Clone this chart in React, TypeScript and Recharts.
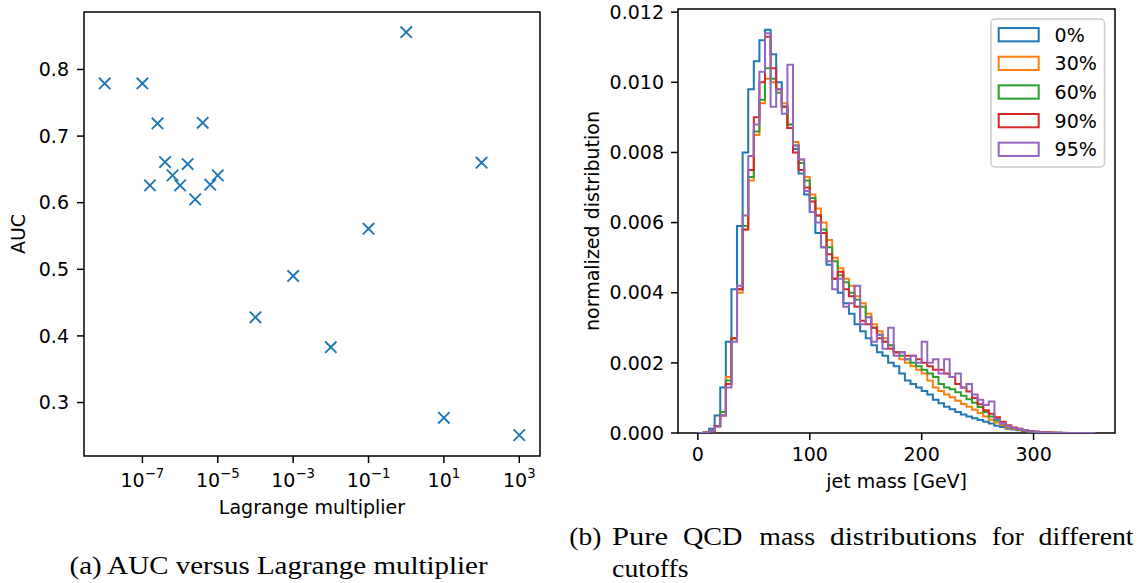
import React from 'react';
import { ScatterChart, Scatter, XAxis, YAxis, LineChart, Line, ReferenceArea } from 'recharts';

// ---------- Panel (a): AUC vs Lagrange multiplier ----------
const lagrangeValues = [
  1e-8, 1e-7, 2.512e-7, 1.585e-7, 3.981e-7, 6.31e-7, 1e-6, 1.585e-6, 2.512e-6, 3.981e-6,
  6.31e-6, 1e-5, 1e-4, 1e-3, 1e-2, 1e-1, 1, 10, 100, 1000,
];
const aucValues = [
  0.779, 0.779, 0.719, 0.626, 0.661, 0.641, 0.626, 0.658, 0.605, 0.72,
  0.627, 0.641, 0.428, 0.49, 0.383, 0.561, 0.856, 0.277, 0.66, 0.251,
];
const logTicks = [1e-7, 1e-5, 1e-3, 1e-1, 1e1, 1e3];
const aucTicks = [0.3, 0.4, 0.5, 0.6, 0.7, 0.8];

// ---------- Panel (b): jet mass histograms (5 GeV bins, 0..355 GeV) ----------
const BIN_WIDTH = 5;
const cutoffLabels = ['0%', '30%', '60%', '90%', '95%'];
const cutoffColors = ['#1f77b4', '#ff7f0e', '#2ca02c', '#d62728', '#9467bd'];

const hist0 = [
  0, 0.00002, 0.00012, 0.0005, 0.0013, 0.0026, 0.0041, 0.0059, 0.008, 0.0098,
  0.0106, 0.0112, 0.0115, 0.0108, 0.01, 0.0093, 0.0087, 0.0081, 0.0074, 0.0068,
  0.0063, 0.0057, 0.0053, 0.0048, 0.0044, 0.004, 0.0037, 0.0034, 0.0031, 0.0029,
  0.0027, 0.0025, 0.0023, 0.0022, 0.002, 0.0019, 0.0017, 0.0015, 0.0014, 0.0013,
  0.0012, 0.0011, 0.00095, 0.00085, 0.00075, 0.00068, 0.0006, 0.00053, 0.00047, 0.00042,
  0.00037, 0.00032, 0.00027, 0.00021, 0.00017, 0.00012, 0.0001, 0.00008, 0.00006, 0.00004,
  0.00003, 0.00002, 0.00001, 0.00001, 0, 0, 0, 0, 0, 0, 0,
];
const hist30 = [
  0, 0.00001, 0.00006, 0.0002, 0.0006, 0.0016, 0.0027, 0.004, 0.0058, 0.0072,
  0.0085, 0.0094, 0.0101, 0.01, 0.0098, 0.0094, 0.0088, 0.0083, 0.0078, 0.0073,
  0.0068, 0.0064, 0.006, 0.0055, 0.005, 0.0047, 0.0044, 0.0042, 0.0039, 0.0037,
  0.0034, 0.0031, 0.0029, 0.0027, 0.0025, 0.0023, 0.0021, 0.002, 0.0019, 0.0018,
  0.0017, 0.0015, 0.0013, 0.0012, 0.0011, 0.00102, 0.00092, 0.00083, 0.00075, 0.00066,
  0.00057, 0.00047, 0.00038, 0.0003, 0.00023, 0.00016, 0.00012, 0.00009, 0.00007, 0.00005,
  0.00003, 0.00002, 0.00001, 0.00001, 0.00001, 0, 0, 0, 0, 0, 0,
];
const hist60 = [
  0, 0.00001, 0.00006, 0.0002, 0.0006, 0.0015, 0.0027, 0.0041, 0.0059, 0.0073,
  0.0086, 0.0095, 0.0104, 0.0101, 0.0097, 0.0093, 0.0088, 0.0082, 0.0077, 0.0072,
  0.0067, 0.0062, 0.0058, 0.0053, 0.0049, 0.0045, 0.0043, 0.004, 0.0038, 0.0036,
  0.0033, 0.003, 0.0028, 0.0026, 0.0025, 0.0023, 0.0022, 0.0021, 0.002, 0.0019,
  0.0018, 0.0017, 0.0016, 0.0014, 0.0013, 0.00125, 0.00116, 0.00106, 0.00096, 0.00086,
  0.00074, 0.0006, 0.00047, 0.00036, 0.00027, 0.00019, 0.00014, 0.0001, 0.00007, 0.00005,
  0.00003, 0.00002, 0.00001, 0.00001, 0.00001, 0, 0, 0, 0, 0, 0,
];
const hist90 = [
  0, 0.00001, 0.00005, 0.0002, 0.0005, 0.0014, 0.0027, 0.0041, 0.0058, 0.0075,
  0.009, 0.01, 0.0113, 0.0104, 0.0098, 0.0093, 0.0087, 0.008, 0.0075, 0.007,
  0.0066, 0.0062, 0.0057, 0.0051, 0.0044, 0.0046, 0.0041, 0.0039, 0.0036, 0.0032,
  0.0031, 0.003, 0.0027, 0.0026, 0.0024, 0.0023, 0.0023, 0.0022, 0.0022, 0.0021,
  0.002, 0.0019, 0.0018, 0.0018, 0.0017, 0.0016, 0.0014, 0.0013, 0.00118, 0.001,
  0.00082, 0.00065, 0.00055, 0.00045, 0.00032, 0.00022, 0.00016, 0.00012, 0.00008, 0.00006,
  0.00004, 0.00003, 0.00002, 0.00001, 0.00001, 0, 0, 0, 0, 0, 0,
];
const hist95 = [
  0, 0.00001, 0.00005, 0.00018, 0.0005, 0.0013, 0.0026, 0.0042, 0.0062, 0.0079,
  0.0088, 0.0103, 0.0114, 0.0093, 0.0098, 0.0091, 0.0105, 0.0082, 0.0078, 0.0069,
  0.0063, 0.006, 0.0053, 0.0049, 0.0041, 0.0044, 0.0036, 0.0037, 0.0042, 0.0031,
  0.0033, 0.0026, 0.0028, 0.0024, 0.003, 0.0022, 0.0023, 0.0021, 0.0022, 0.002,
  0.0026, 0.002, 0.0021, 0.0017, 0.0021, 0.0016, 0.0017, 0.0013, 0.0014, 0.0011,
  0.00095, 0.0008, 0.0009, 0.0004, 0.00028, 0.0002, 0.00015, 0.00012, 0.00008, 0.00005,
  0.00003, 0.00002, 0.00001, 0.00001, 0.00001, 0.00001, 0, 0, 0, 0, 0,
];
const histSeries = [hist0, hist30, hist60, hist90, hist95];
const massTicks = [0, 100, 200, 300];
const densityTicks = [0, 0.002, 0.004, 0.006, 0.008, 0.01, 0.012];

// ---------- derived tables ----------
const scatterData = lagrangeValues.map((x, i) => ({ x, y: aucValues[i] }));
const nBins = hist0.length;
const histTable = Array.from({ length: nBins + 1 }, (_, i) => {
  const row: Record<string, number> = { m: i * BIN_WIDTH };
  histSeries.forEach((s, k) => {
    row['s' + k] = i < nBins ? s[i] : 0;
  });
  return row;
});

const FONT = 'DejaVu Sans';
const SERIF = 'Liberation Serif';
const xLogDomain = [Math.pow(10, -8.55), Math.pow(10, 3.55)];
const yAucDomain = [0.2197, 0.8863];
const massDomain = [-17.75, 372.75];
const densityDomain = [0, 0.01209];

const XMark = (props: any) => {
  const { cx, cy } = props;
  if (cx == null || cy == null) return null;
  const r = 5.7;
  return (
    <path
      d={`M${cx - r},${cy - r}L${cx + r},${cy + r}M${cx - r},${cy + r}L${cx + r},${cy - r}`}
      stroke="#1f77b4"
      strokeWidth={1.9}
      fill="none"
    />
  );
};

const LogTick = (props: any) => {
  const { x, y, payload } = props;
  const e = Math.round(Math.log10(payload.value));
  const exp = e < 0 ? `\u2212${-e}` : `${e}`;
  return (
    <text x={x} y={y + 19.5} textAnchor="middle" fontFamily={FONT} fontSize={19} fill="#000">
      <tspan>10</tspan>
      <tspan dy={-8.5} fontSize={13.3}>{exp}</tspan>
    </text>
  );
};

export default function App() {
  const tickStyle = { fontSize: 19, fill: '#000', fontFamily: FONT };
  const legendRows = cutoffLabels.map((l, i) => ({ label: l, color: cutoffColors[i], cy: 34.7 + 28.65 * i }));
  return (
    <div style={{ position: 'absolute', left: 0, top: 0, width: 1144, height: 583, background: '#fff', overflow: 'hidden' }}>
      <div style={{ position: 'absolute', left: 0, top: 0 }}>
        <ScatterChart width={560} height={540} margin={{ top: 12, right: 20, bottom: 24, left: 0 }}>
          <XAxis
            dataKey="x"
            type="number"
            scale="log"
            domain={xLogDomain}
            allowDataOverflow
            ticks={logTicks}
            tick={<LogTick />}
            tickSize={7}
            tickMargin={4}
            height={60}
            axisLine={false}
            tickLine={{ stroke: '#000', strokeWidth: 1.5 }}
            interval={0}
          />
          <YAxis
            dataKey="y"
            type="number"
            domain={yAucDomain}
            allowDataOverflow
            ticks={aucTicks}
            tickFormatter={(v: number) => v.toFixed(1)}
            tick={tickStyle}
            tickSize={7}
            tickMargin={8}
            width={84}
            axisLine={false}
            tickLine={{ stroke: '#000', strokeWidth: 1.5 }}
            interval={0}
          />
          <ReferenceArea
            x1={xLogDomain[0]}
            x2={xLogDomain[1]}
            y1={yAucDomain[0]}
            y2={yAucDomain[1]}
            ifOverflow="visible"
            fill="none"
            stroke="#000"
            strokeWidth={1.5}
          />
          <Scatter data={scatterData} shape={<XMark />} isAnimationActive={false} />
        </ScatterChart>
      </div>
      <div style={{ position: 'absolute', left: 560, top: 0 }}>
        <LineChart width={584} height={540} data={histTable} margin={{ top: 9, right: 29, bottom: 47, left: 0 }}>
          <XAxis
            dataKey="m"
            type="number"
            domain={massDomain}
            allowDataOverflow
            ticks={massTicks}
            tick={tickStyle}
            tickSize={7}
            tickMargin={8}
            height={60}
            axisLine={false}
            tickLine={{ stroke: '#000', strokeWidth: 1.5 }}
            interval={0}
          />
          <YAxis
            type="number"
            domain={densityDomain}
            allowDataOverflow
            ticks={densityTicks}
            tickFormatter={(v: number) => v.toFixed(3)}
            tick={tickStyle}
            tickSize={7}
            tickMargin={7}
            width={118}
            axisLine={false}
            tickLine={{ stroke: '#000', strokeWidth: 1.5 }}
            interval={0}
          />
          {histSeries.map((_, k) => (
            <Line
              key={k}
              type="stepAfter"
              dataKey={'s' + k}
              stroke={cutoffColors[k]}
              strokeWidth={2}
              dot={false}
              activeDot={false}
              isAnimationActive={false}
            />
          ))}
          <ReferenceArea
            x1={massDomain[0]}
            x2={massDomain[1]}
            y1={densityDomain[0]}
            y2={densityDomain[1]}
            ifOverflow="visible"
            fill="none"
            stroke="#000"
            strokeWidth={1.5}
          />
        </LineChart>
      </div>
      <svg width={1144} height={583} style={{ position: 'absolute', left: 0, top: 0, pointerEvents: 'none' }}>
        {/* axis titles panel (a) */}
        <text x={25} y={234} transform="rotate(-90 25 234)" textAnchor="middle" fontFamily={FONT} fontSize={19} fill="#000">AUC</text>
        <text x={312} y={514} textAnchor="middle" fontFamily={FONT} fontSize={19} fill="#000">Lagrange multiplier</text>
        {/* axis titles panel (b) */}
        <text x={599} y={221} transform="rotate(-90 599 221)" textAnchor="middle" fontFamily={FONT} fontSize={19} fill="#000">normalized distribution</text>
        <text x={896.7} y={488} textAnchor="middle" fontFamily={FONT} fontSize={19} fill="#000">jet mass [GeV]</text>
        {/* legend */}
        <rect x={991} y={19} width={113.5} height={148} rx={4} fill="#fff" fillOpacity={0.8} stroke="#cccccc" strokeWidth={1.5} />
        {legendRows.map((r) => (
          <g key={r.label}>
            <rect x={998.7} y={r.cy - 6.65} width={40} height={13.3} fill="none" stroke={r.color} strokeWidth={2} />
            <text x={1054.6} y={r.cy + 6.9} fontFamily={FONT} fontSize={19} fill="#000">{r.label}</text>
          </g>
        ))}
        {/* captions */}
        <text x={69.6} y={573.5} fontFamily={SERIF} fontSize={24.5} textLength={418} lengthAdjust="spacingAndGlyphs" fill="#000">(a) AUC versus Lagrange multiplier</text>
        <g fontFamily={SERIF} fontSize={24.5} fill="#000">
          <text x={569.3} y={545} textLength={32} lengthAdjust="spacingAndGlyphs">(b)</text>
          <text x={612.1} y={545} textLength={56} lengthAdjust="spacingAndGlyphs">Pure</text>
          <text x={682.9} y={545} textLength={59.6} lengthAdjust="spacingAndGlyphs">QCD</text>
          <text x={759.3} y={545} textLength={55.7} lengthAdjust="spacingAndGlyphs">mass</text>
          <text x={830} y={545} textLength={147} lengthAdjust="spacingAndGlyphs">distributions</text>
          <text x={992} y={545} textLength={31.7} lengthAdjust="spacingAndGlyphs">for</text>
          <text x={1038.6} y={545} textLength={95} lengthAdjust="spacingAndGlyphs">different</text>
          <text x={612.1} y={576.5} textLength={76.4} lengthAdjust="spacingAndGlyphs">cutoffs</text>
        </g>
      </svg>
    </div>
  );
}
